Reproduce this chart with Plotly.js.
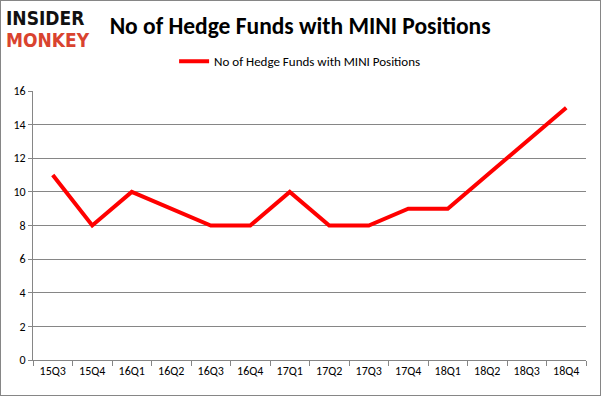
<!DOCTYPE html>
<html><head><meta charset="utf-8">
<script src="https://cdn.plot.ly/plotly-3.0.1.min.js"></script>
<style>
html,body{margin:0;padding:0;background:#fff;}
#wrap{position:relative;width:601px;height:396px;}
#chart{width:601px;height:396px;}
#frame{position:absolute;left:0;top:0;width:599px;height:394px;border:1px solid #868686;pointer-events:none;}
</style></head>
<body>
<div id="wrap"><div id="chart"></div><div id="frame"></div></div>
<script>
const categories = ["15Q3","15Q4","16Q1","16Q2","16Q3","16Q4","17Q1","17Q2","17Q3","17Q4","18Q1","18Q2","18Q3","18Q4"];
const hedgeFunds = [11,8,10,9,8,8,10,8,8,9,9,11,13,15];
const yTicks = [0,2,4,6,8,10,12,14,16];
const seriesName = "No of Hedge Funds with MINI Positions";
const chartTitle = "No of Hedge Funds with MINI Positions";

const font = "Carlito, Calibri, 'Liberation Sans', Arial, sans-serif";
Plotly.newPlot("chart", [{
  x: categories, y: hedgeFunds, type: "scatter", mode: "lines", name: seriesName,
  line: {color: "#ff0000", width: 4}
}], {
  width: 601, height: 396,
  margin: {l: 33, r: 15, t: 91, b: 36},
  paper_bgcolor: "#fff", plot_bgcolor: "#fff",
  showlegend: true,
  legend: {orientation: "h", x: 0.483, xanchor: "center", y: 1.11, yanchor: "middle",
    font: {family: font, size: 13, color: "#000"}},
  title: {text: "<b>" + chartTitle + "</b>", xref: "paper", x: 0.483, xanchor: "center", y: 0.935, yanchor: "middle",
    font: {family: font, size: 23.5, color: "#000"}},
  xaxis: {type: "category", tickvals: categories, showgrid: false, showline: true, linecolor: "#868686", linewidth: 1,
    ticks: "outside", tickson: "boundaries", ticklen: 5, tickcolor: "#868686",
    tickfont: {family: font, size: 12, color: "#000"}, range: [-0.5, 13.5], fixedrange: true},
  yaxis: {range: [0, 16], tickvals: yTicks, showgrid: true, gridcolor: "#868686", gridwidth: 1,
    showline: true, linecolor: "#868686", ticks: "outside", ticklen: 4, tickcolor: "#868686",
    tickfont: {family: font, size: 12, color: "#000"}, zeroline: false},
  annotations: [
    {text: "<b>INSIDER</b>", xref: "paper", yref: "paper", x: -0.052, y: 1.272, xanchor: "left", yanchor: "middle",
     showarrow: false, font: {family: "'DejaVu Sans Condensed', 'DejaVu Sans', sans-serif", size: 19, color: "#111"}},
    {text: "<b>MONKEY</b>", xref: "paper", yref: "paper", x: -0.052, y: 1.19, xanchor: "left", yanchor: "middle",
     showarrow: false, font: {family: "'DejaVu Sans Condensed', 'DejaVu Sans', sans-serif", size: 19, color: "#d9432f"}}
  ]
}, {displayModeBar: false, staticPlot: true});
</script>
</body></html>
